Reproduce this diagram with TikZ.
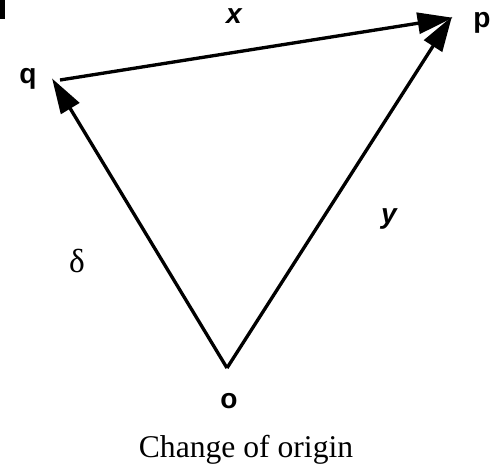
\documentclass[tikz,border=0pt]{standalone}
\usepackage{fontspec}
\setmainfont{Liberation Serif}
\setsansfont{Liberation Sans}
\usetikzlibrary{positioning,arrows.meta}
\tikzset{
  vec/.style   = {-{Triangle[length=20pt, width=12pt]}, line width=1.9pt, shorten >=-1pt},
  ptlab/.style = {font=\sffamily\bfseries\fontsize{16}{19}\selectfont, anchor=base, inner sep=0pt},
  veclab/.style= {font=\sffamily\bfseries\itshape\fontsize{16}{19}\selectfont, anchor=base, inner sep=0pt},
  grk/.style   = {font=\fontsize{19}{22}\selectfont, anchor=base, inner sep=0pt},
  caption/.style = {font=\fontsize{18}{22}\selectfont, anchor=base, inner sep=0pt},
}

\begin{document}
\begin{tikzpicture}[x=0.02cm, y=-0.02cm]

  \useasboundingbox (0,0) rectangle (500,467);
  \fill (0,0) rectangle (5,19);

  \coordinate (o) at (227,368);
  \coordinate (q) at (53,80);
  \coordinate (p) at (451,18);

  \node[ptlab] (ql) at (28,83)  {q};
  \node[ptlab] (pl) at (482,27) {p};
  \node[ptlab] (ol) at (229,408) {o};

  \draw[vec] (o) -- (q);
  \draw[vec] (o) -- (p);
  \draw[vec] ([xshift=4pt]q) -- (p);

  \node[veclab] (xl) at (234,23)  {x};
  \node[veclab] (yl) at (389,223) {y};
  \node[grk]    (dl) at (77,272)  {δ};

  \node[caption] (title) at (246,457) {Change of origin};

\end{tikzpicture}
\end{document}
